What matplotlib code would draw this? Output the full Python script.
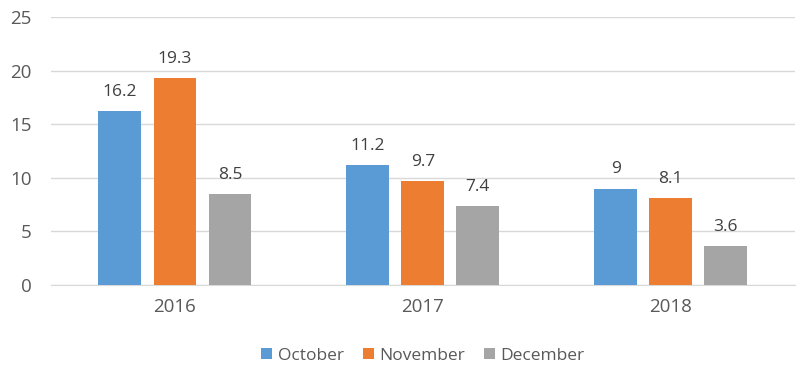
import matplotlib
matplotlib.use("Agg")
import matplotlib.pyplot as plt
import numpy as np

years = ["2016", "2017", "2018"]
months = ["October", "November", "December"]
october = [16.2, 11.2, 9]
november = [19.3, 9.7, 8.1]
december = [8.5, 7.4, 3.6]
colors = ["#5B9BD5", "#ED7D31", "#A5A5A5"]

plt.rcParams['font.family'] = ['Open Sans', 'DejaVu Sans']
text_color = "#595959"

fig = plt.figure(figsize=(8.11, 3.8), dpi=100)
ax = fig.add_axes([0.0629, 0.25, 0.917, 0.705])

x = np.arange(len(years))
width = 0.173
step = 0.222
for i, (vals, name) in enumerate(zip([october, november, december], months)):
    pos = x + (i - 1) * step
    bars = ax.bar(pos, vals, width, color=colors[i], label=name, zorder=3)
    for b, v in zip(bars, vals):
        ax.annotate("{:g}".format(v), (b.get_x() + b.get_width() / 2, v),
                    xytext=(0, 8), textcoords="offset points",
                    ha="center", va="bottom", fontsize=12.5, color="#404040")

ax.set_xlim(-0.5, 2.5)
ax.set_ylim(0, 25)
ax.set_yticks(range(0, 26, 5))
ax.set_xticks(x)
ax.set_xticklabels(years)
ax.grid(axis="y", color="#D9D9D9", linewidth=1, zorder=0)
for s in ["top", "right", "left"]:
    ax.spines[s].set_visible(False)
ax.spines["bottom"].set_color("#D9D9D9")
ax.tick_params(axis="both", length=0, labelsize=13.5, colors=text_color)
ax.tick_params(axis="x", pad=9)
ax.tick_params(axis="y", pad=14)

ax.legend(loc="upper center", bbox_to_anchor=(0.5, -0.175), ncol=3, frameon=False,
          fontsize=12.5, labelcolor=text_color, handlelength=0.65, handleheight=0.65,
          handletextpad=0.3, columnspacing=1.1)

fig.savefig("out.png", dpi=100)
